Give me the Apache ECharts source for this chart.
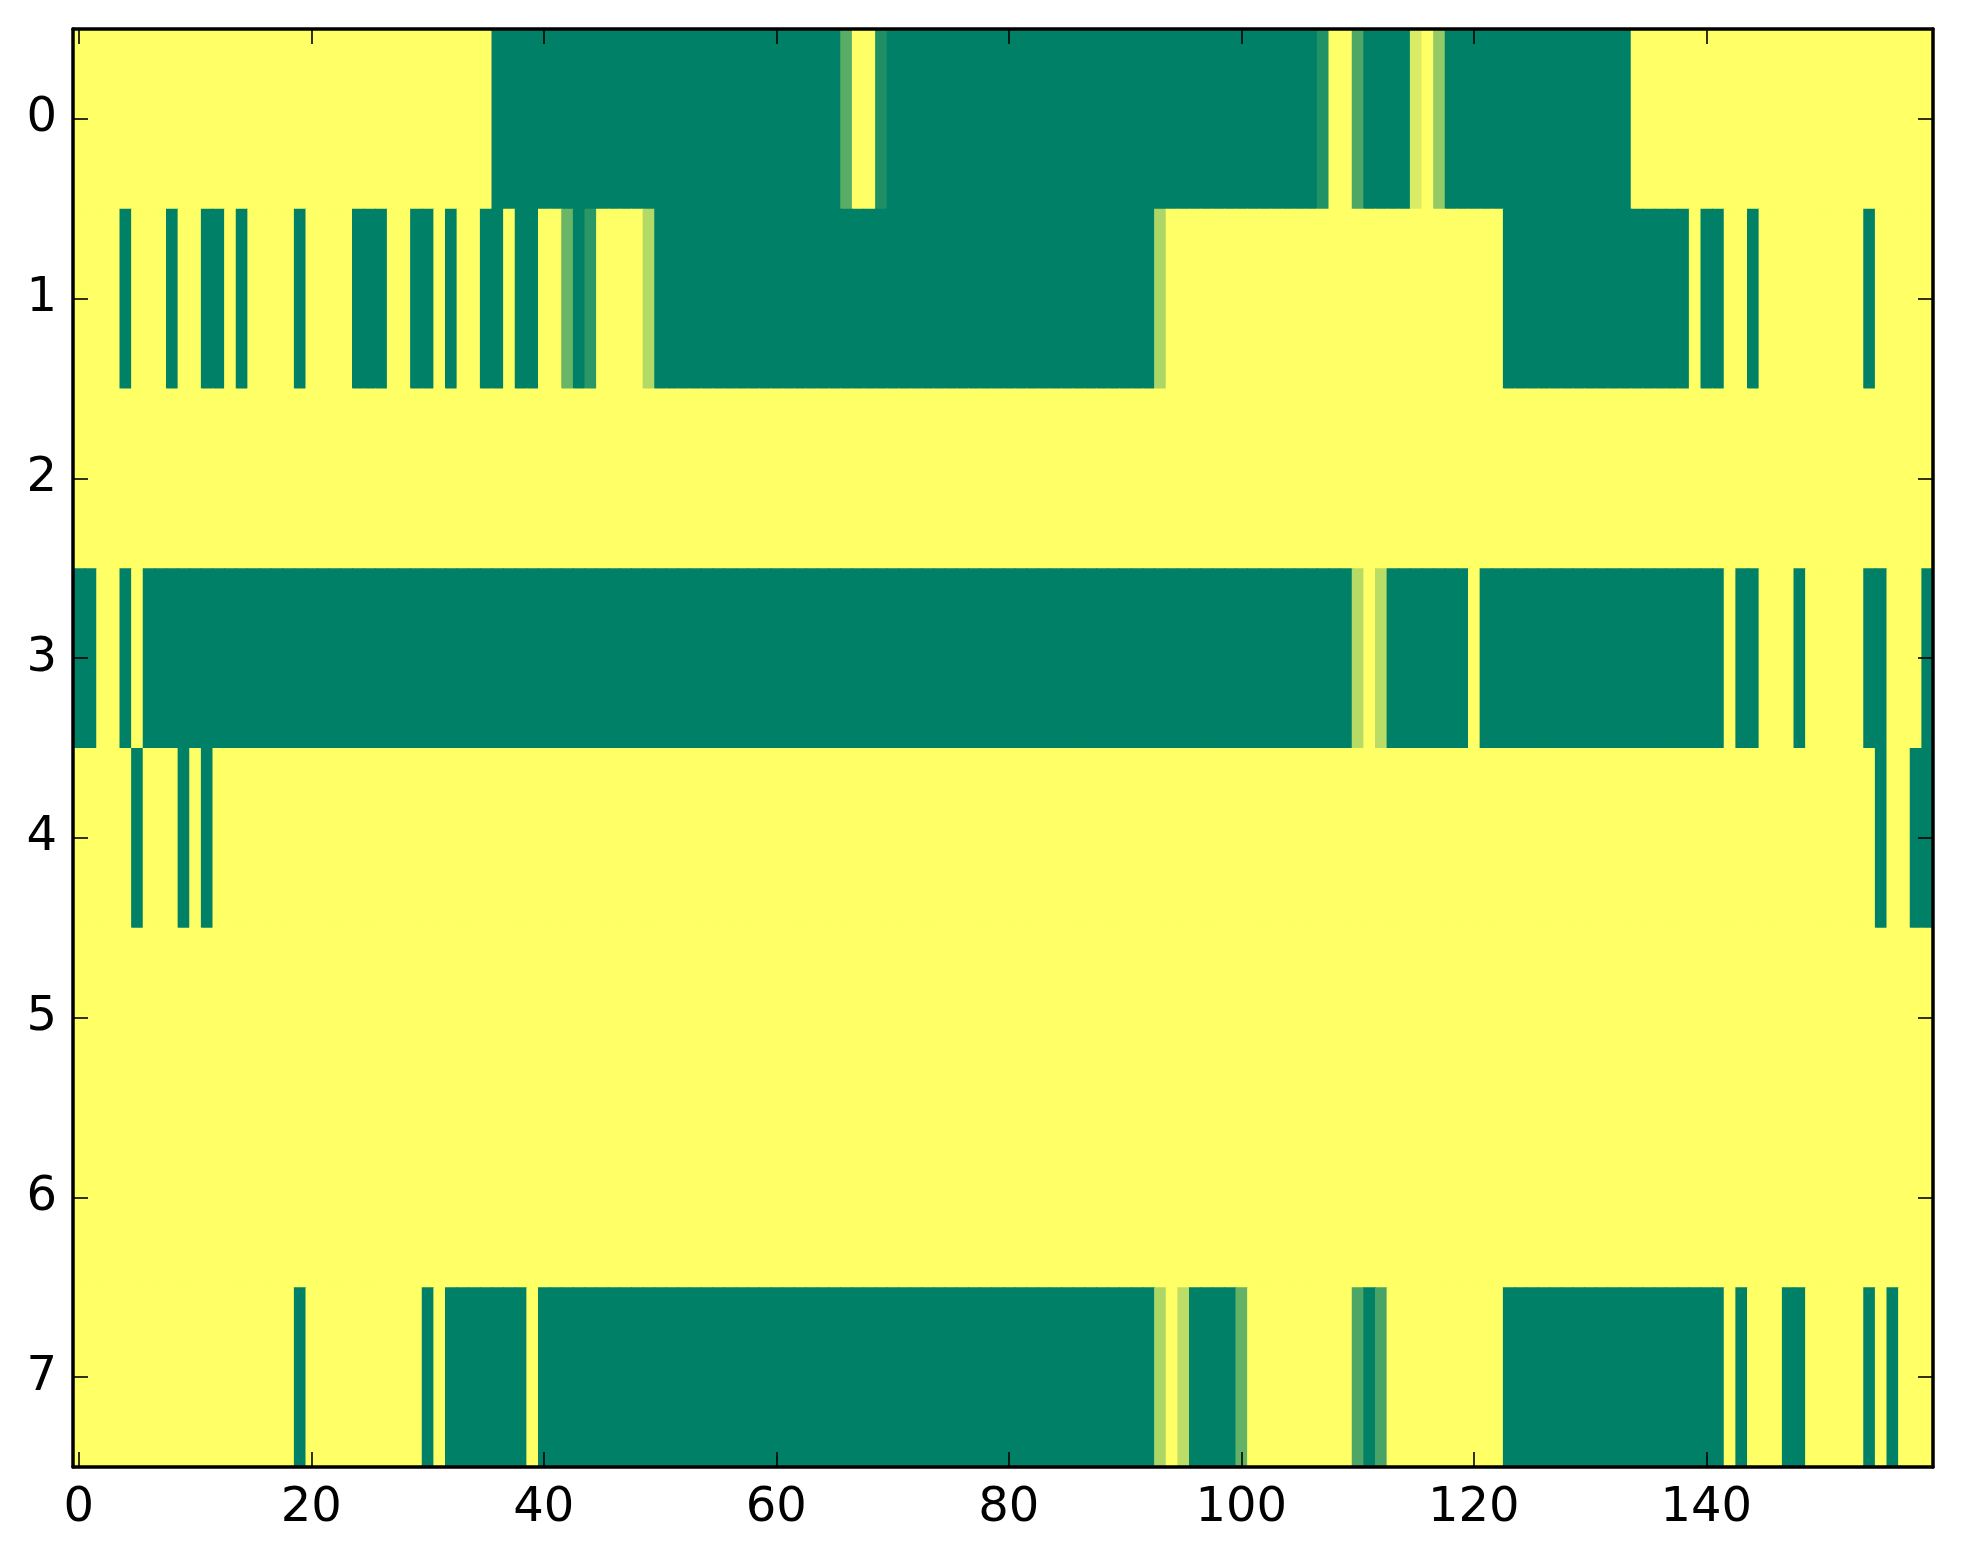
<!DOCTYPE html>
<html>
<head>
<meta charset="utf-8">
<script src="https://cdn.jsdelivr.net/npm/echarts@6/dist/echarts.min.js"></script>
<style>
html,body{margin:0;padding:0;background:#fff;}
#chart{width:1963px;height:1564px;}
</style>
</head>
<body>
<div id="chart"></div>
<script>
// Column categories 0..159 and row categories 0..7
const xCategories = ["0","1","2","3","4","5","6","7","8","9","10","11","12","13","14","15","16","17","18","19","20","21","22","23","24","25","26","27","28","29","30","31","32","33","34","35","36","37","38","39","40","41","42","43","44","45","46","47","48","49","50","51","52","53","54","55","56","57","58","59","60","61","62","63","64","65","66","67","68","69","70","71","72","73","74","75","76","77","78","79","80","81","82","83","84","85","86","87","88","89","90","91","92","93","94","95","96","97","98","99","100","101","102","103","104","105","106","107","108","109","110","111","112","113","114","115","116","117","118","119","120","121","122","123","124","125","126","127","128","129","130","131","132","133","134","135","136","137","138","139","140","141","142","143","144","145","146","147","148","149","150","151","152","153","154","155","156","157","158","159"];
const yCategories = ["0","1","2","3","4","5","6","7"];

const row0 = [1,1,1,1,1,1,1,1,1,1, 1,1,1,1,1,1,1,1,1,1, 1,1,1,1,1,1,1,1,1,1, 1,1,1,1,1,1,0,0,0,0,
  0,0,0,0,0,0,0,0,0,0, 0,0,0,0,0,0,0,0,0,0, 0,0,0,0,0,0,0.35,1,1,0.12, 0,0,0,0,0,0,0,0,0,0,
  0,0,0,0,0,0,0,0,0,0, 0,0,0,0,0,0,0,0,0,0, 0,0,0,0,0,0,0,0.13,1,1, 0.31,0,0,0,0,0.85,1,0.58,0,0,
  0,0,0,0,0,0,0,0,0,0, 0,0,0,0,1,1,1,1,1,1, 1,1,1,1,1,1,1,1,1,1, 1,1,1,1,1,1,1,1,1,1];
const row1 = [1,1,1,1,0,1,1,1,0,1, 1,0,0,1,0,1,1,1,1,0, 1,1,1,1,0,0,0,1,1,0, 0,1,0,1,1,0,0,1,0,0,
  1,1,0.42,0,0.17,1,1,1,1,0.7, 0,0,0,0,0,0,0,0,0,0, 0,0,0,0,0,0,0,0,0,0, 0,0,0,0,0,0,0,0,0,0,
  0,0,0,0,0,0,0,0,0,0, 0,0,0,0.68,1,1,1,1,1,1, 1,1,1,1,1,1,1,1,1,1, 1,1,1,1,1,1,1,1,1,1,
  1,1,1,0,0,0,0,0,0,0, 0,0,0,0,0,0,0,0,0,1, 0,0,1,1,0,1,1,1,1,1, 1,1,1,1,0,1,1,1,1,1];
const row2 = [1,1,1,1,1,1,1,1,1,1, 1,1,1,1,1,1,1,1,1,1, 1,1,1,1,1,1,1,1,1,1, 1,1,1,1,1,1,1,1,1,1,
  1,1,1,1,1,1,1,1,1,1, 1,1,1,1,1,1,1,1,1,1, 1,1,1,1,1,1,1,1,1,1, 1,1,1,1,1,1,1,1,1,1,
  1,1,1,1,1,1,1,1,1,1, 1,1,1,1,1,1,1,1,1,1, 1,1,1,1,1,1,1,1,1,1, 1,1,1,1,1,1,1,1,1,1,
  1,1,1,1,1,1,1,1,1,1, 1,1,1,1,1,1,1,1,1,1, 1,1,1,1,1,1,1,1,1,1, 1,1,1,1,1,1,1,1,1,1];
const row3 = [0,0,1,1,0,1,0,0,0,0, 0,0,0,0,0,0,0,0,0,0, 0,0,0,0,0,0,0,0,0,0, 0,0,0,0,0,0,0,0,0,0,
  0,0,0,0,0,0,0,0,0,0, 0,0,0,0,0,0,0,0,0,0, 0,0,0,0,0,0,0,0,0,0, 0,0,0,0,0,0,0,0,0,0,
  0,0,0,0,0,0,0,0,0,0, 0,0,0,0,0,0,0,0,0,0, 0,0,0,0,0,0,0,0,0,0, 0.72,1,0.73,0,0,0,0,0,0,0,
  1,0,0,0,0,0,0,0,0,0, 0,0,0,0,0,0,0,0,0,0, 0,0,1,0,0,1,1,1,0,1, 1,1,1,1,0,0,1,1,1,0];
const row4 = [1,1,1,1,1,0,1,1,1,0, 1,0,1,1,1,1,1,1,1,1, 1,1,1,1,1,1,1,1,1,1, 1,1,1,1,1,1,1,1,1,1,
  1,1,1,1,1,1,1,1,1,1, 1,1,1,1,1,1,1,1,1,1, 1,1,1,1,1,1,1,1,1,1, 1,1,1,1,1,1,1,1,1,1,
  1,1,1,1,1,1,1,1,1,1, 1,1,1,1,1,1,1,1,1,1, 1,1,1,1,1,1,1,1,1,1, 1,1,1,1,1,1,1,1,1,1,
  1,1,1,1,1,1,1,1,1,1, 1,1,1,1,1,1,1,1,1,1, 1,1,1,1,1,1,1,1,1,1, 1,1,1,1,1,0,1,1,0,0];
const row5 = [1,1,1,1,1,1,1,1,1,1, 1,1,1,1,1,1,1,1,1,1, 1,1,1,1,1,1,1,1,1,1, 1,1,1,1,1,1,1,1,1,1,
  1,1,1,1,1,1,1,1,1,1, 1,1,1,1,1,1,1,1,1,1, 1,1,1,1,1,1,1,1,1,1, 1,1,1,1,1,1,1,1,1,1,
  1,1,1,1,1,1,1,1,1,1, 1,1,1,1,1,1,1,1,1,1, 1,1,1,1,1,1,1,1,1,1, 1,1,1,1,1,1,1,1,1,1,
  1,1,1,1,1,1,1,1,1,1, 1,1,1,1,1,1,1,1,1,1, 1,1,1,1,1,1,1,1,1,1, 1,1,1,1,1,1,1,1,1,1];
const row6 = [1,1,1,1,1,1,1,1,1,1, 1,1,1,1,1,1,1,1,1,1, 1,1,1,1,1,1,1,1,1,1, 1,1,1,1,1,1,1,1,1,1,
  1,1,1,1,1,1,1,1,1,1, 1,1,1,1,1,1,1,1,1,1, 1,1,1,1,1,1,1,1,1,1, 1,1,1,1,1,1,1,1,1,1,
  1,1,1,1,1,1,1,1,1,1, 1,1,1,1,1,1,1,1,1,1, 1,1,1,1,1,1,1,1,1,1, 1,1,1,1,1,1,1,1,1,1,
  1,1,1,1,1,1,1,1,1,1, 1,1,1,1,1,1,1,1,1,1, 1,1,1,1,1,1,1,1,1,1, 1,1,1,1,1,1,1,1,1,1];
const row7 = [1,1,1,1,1,1,1,1,1,1, 1,1,1,1,1,1,1,1,1,0, 1,1,1,1,1,1,1,1,1,1, 0,1,0,0,0,0,0,0,0,1,
  0,0,0,0,0,0,0,0,0,0, 0,0,0,0,0,0,0,0,0,0, 0,0,0,0,0,0,0,0,0,0, 0,0,0,0,0,0,0,0,0,0,
  0,0,0,0,0,0,0,0,0,0, 0,0,0,0.68,1,0.74,0,0,0,0, 0.39,1,1,1,1,1,1,1,1,1, 0.3,0,0.28,1,1,1,1,1,1,1,
  1,1,1,0,0,0,0,0,0,0, 0,0,0,0,0,0,0,0,0,0, 0,0,1,0,1,1,1,0,0,1, 1,1,1,1,0,1,0,1,1,1];

const rows = [row0, row1, row2, row3, row4, row5, row6, row7];
const xTickLabels = ["0","20","40","60","80","100","120","140"];

const cells = [];
rows.forEach(function (row, y) {
  row.forEach(function (v, x) { cells.push([x, y, v]); });
});

const labelFont = {fontFamily: 'DejaVu Sans', fontSize: 48, color: '#000'};
const spine = {show: true, onZero: false, lineStyle: {color: '#000', width: 3.5}};
const tick = {show: true, inside: true, length: 15, alignWithLabel: true, lineStyle: {color: '#000', width: 1.6}};

function xLabelInterval(i, v) { return xTickLabels.indexOf(v) >= 0; }

// image cell: rectangle from the axis scales; slightly overlapped to avoid seams
function renderCell(params, api) {
  const c = api.coord([api.value(0), api.value(1)]);
  const s = api.size([1, 1]);
  return {
    type: 'rect',
    shape: {x: c[0] - s[0] / 2, y: c[1] - s[1] / 2, width: s[0] + 0.9, height: s[1] + 0.9},
    style: {fill: api.visual('color')}
  };
}

const chart = echarts.init(document.getElementById('chart'), null, {renderer: 'canvas'});
chart.setOption({
  backgroundColor: '#ffffff',
  animation: false,
  grid: {left: 73, top: 29, width: 1860, height: 1438, containLabel: false},
  xAxis: [
    {type: 'category', data: xCategories, position: 'bottom', z: 10,
     axisLine: spine, axisTick: Object.assign({}, tick, {interval: xLabelInterval}),
     axisLabel: Object.assign({}, labelFont, {interval: xLabelInterval, margin: 18}),
     splitLine: {show: false}},
    {type: 'category', data: xCategories, position: 'top', z: 10,
     axisLine: spine, axisTick: Object.assign({}, tick, {interval: xLabelInterval}),
     axisLabel: {show: false}, splitLine: {show: false}}
  ],
  yAxis: [
    {type: 'category', data: yCategories, position: 'left', inverse: true, z: 10,
     axisLine: spine, axisTick: Object.assign({}, tick, {interval: 0}),
     axisLabel: Object.assign({}, labelFont, {interval: 0, margin: 16}),
     splitLine: {show: false}},
    {type: 'category', data: yCategories, position: 'right', inverse: true, z: 10,
     axisLine: spine, axisTick: Object.assign({}, tick, {interval: 0}),
     axisLabel: {show: false}, splitLine: {show: false}}
  ],
  visualMap: {show: false, type: 'continuous', min: 0, max: 1, dimension: 2, seriesIndex: 0,
    inRange: {color: ['#008066', '#ffff66']}},
  series: [{
    type: 'custom', xAxisIndex: 0, yAxisIndex: 0, data: cells,
    encode: {x: 0, y: 1}, renderItem: renderCell, silent: true, progressive: 0
  }]
});
</script>
</body>
</html>
